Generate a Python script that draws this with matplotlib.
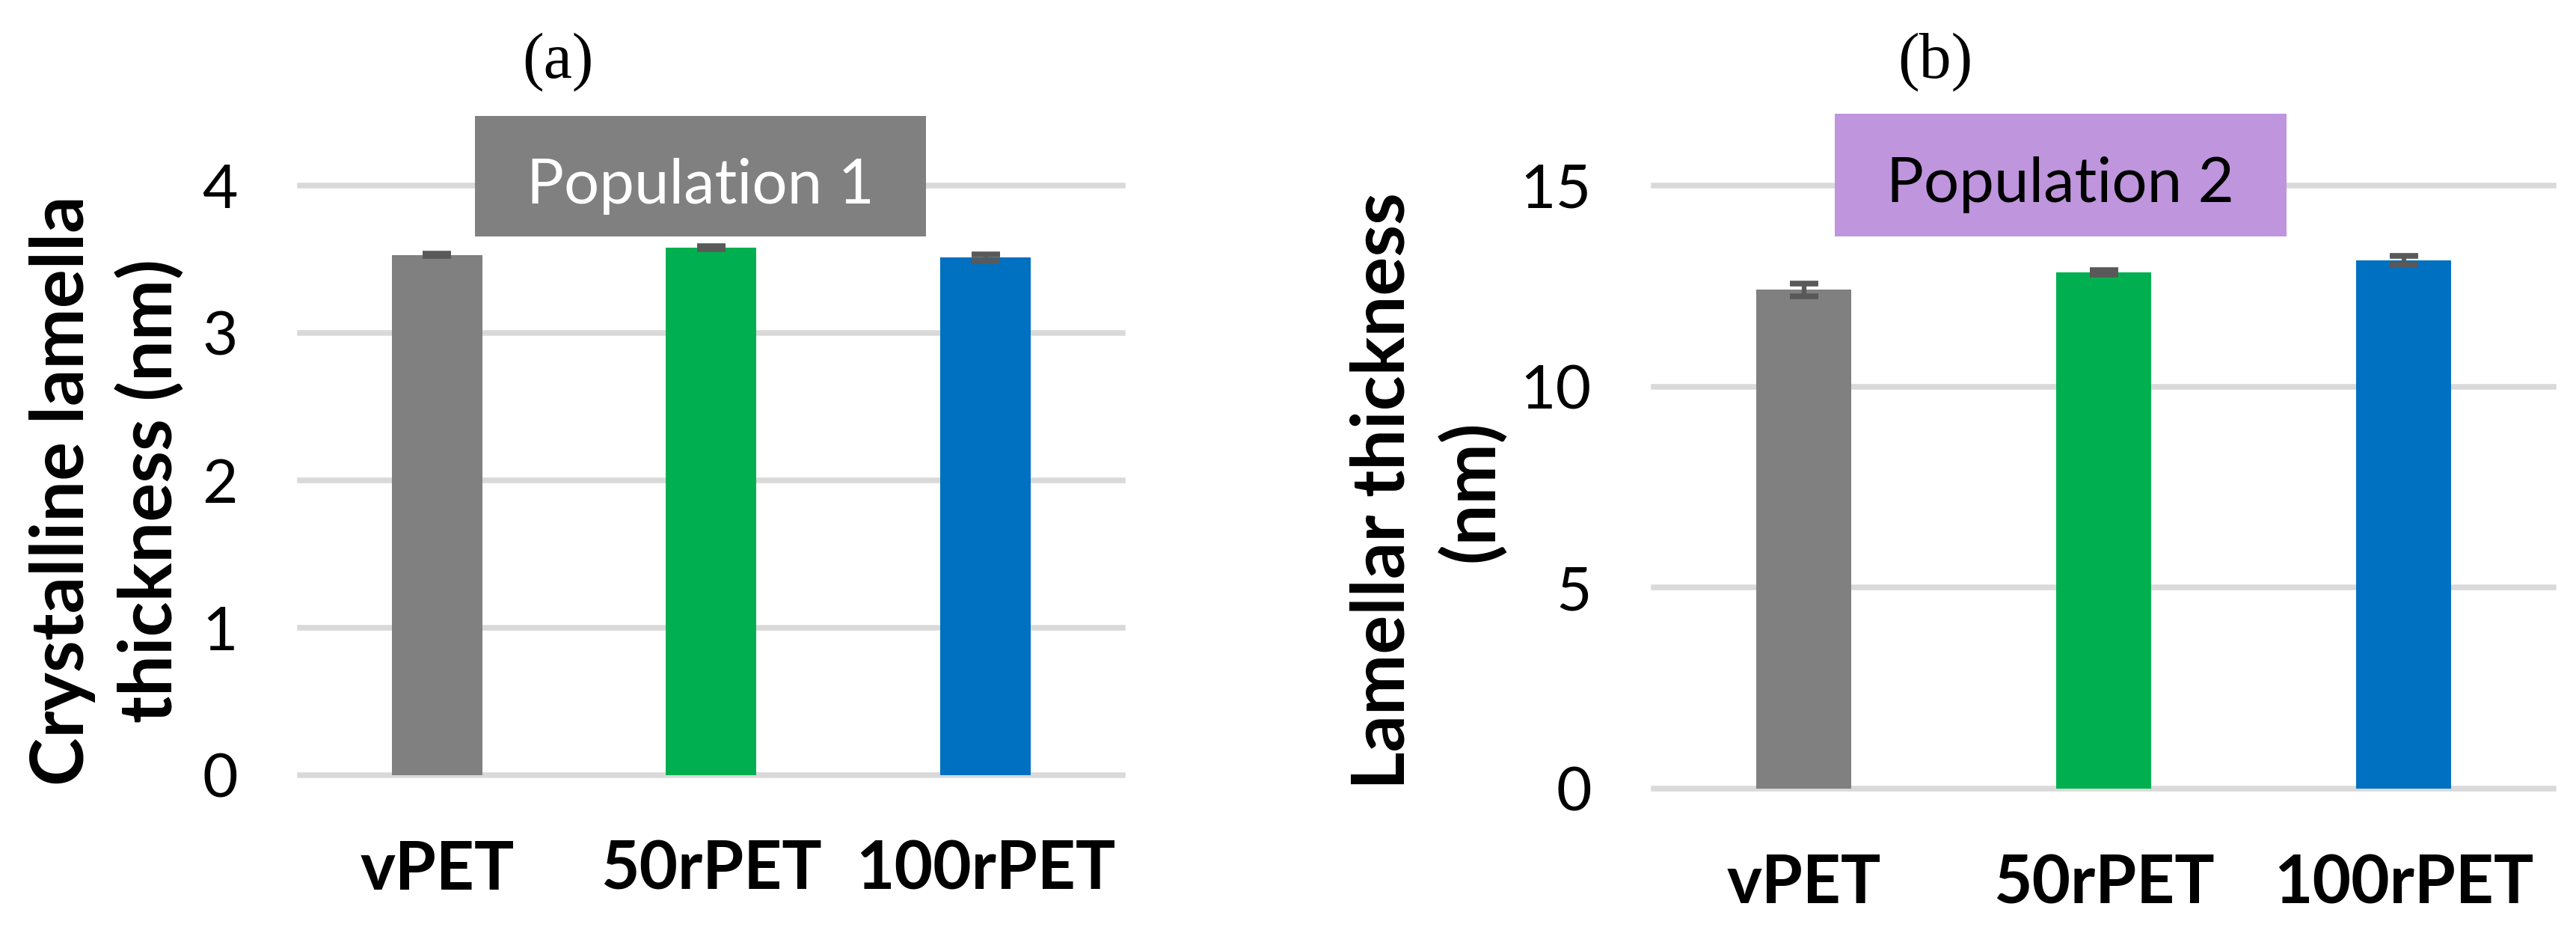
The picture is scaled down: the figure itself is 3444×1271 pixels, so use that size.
import matplotlib
matplotlib.use('Agg')
import matplotlib.pyplot as plt
from matplotlib.patches import Rectangle
import numpy as np

# Data
samples = ['vPET', '50rPET', '100rPET']
bar_colors = ['#808080', '#00B050', '#0070C0']

# (a) population 1 - crystalline lamella thickness (nm)
pop1_vals = [3.53, 3.58, 3.51]
pop1_errs = [0.01, 0.01, 0.025]

# (b) population 2 - lamellar thickness (nm)
pop2_vals = [12.41, 12.84, 13.14]
pop2_errs = [0.16, 0.06, 0.11]

W, H = 3444, 1271
plt.rcParams['font.family'] = ['Lato', 'DejaVu Sans']

fig = plt.figure(figsize=(W / 100, H / 100), dpi=100)


def fx(x):
    return x / W


def fy(y):
    return 1 - y / H


def axes_px(left, right, top, bottom):
    return fig.add_axes([fx(left), fy(bottom), (right - left) / W, (bottom - top) / H])


def draw_panel(ax, vals, errs, ymax, step, width):
    x = np.arange(len(samples))
    ax.bar(x, vals, width=width, color=bar_colors, zorder=2)
    ax.errorbar(x, vals, yerr=errs, fmt='none', ecolor='#595959',
                elinewidth=4.5, capsize=13.5, capthick=5.5, zorder=3)
    ax.set_xlim(-0.5, len(samples) - 0.5)
    ax.set_ylim(0, ymax)
    ax.set_yticks(np.arange(0, ymax + step / 2, step))
    ax.set_xticks(x)
    ax.set_xticklabels(samples, fontweight='bold')
    ax.tick_params(axis='y', length=0, pad=60, labelsize=59)
    ax.tick_params(axis='x', length=0, pad=62, labelsize=64)
    for s in ax.spines.values():
        s.set_visible(False)
    ax.yaxis.grid(True, color='#D9D9D9', linewidth=5.4)
    ax.set_axisbelow(True)
    for gl in ax.get_ygridlines():
        gl.set_clip_on(False)


def label_box(left, right, top, bottom, text, face, tcolor, baseline):
    fig.add_artist(Rectangle((fx(left), fy(bottom)), (right - left) / W, (bottom - top) / H,
                             transform=fig.transFigure, facecolor=face, edgecolor='none', zorder=5))
    fig.text(fx((left + right) / 2), fy(baseline), text, ha='center', va='baseline',
             fontsize=60, color=tcolor, zorder=6)


# panel (a)
ax1 = axes_px(401, 1501, 248, 1035.5)
draw_panel(ax1, pop1_vals, pop1_errs, 4, 1, 0.33)
fig.text(fx(143), fy(656), 'Crystalline lamella\nthickness (nm)', rotation=90,
         ha='center', va='center', multialignment='center', fontsize=70,
         fontweight='bold', linespacing=1.35)
label_box(635, 1238, 155, 316, 'Population 1', '#808080', 'white', 272)
fig.text(fx(746), fy(83), '(a)', ha='center', va='center', fontsize=62,
         family='Liberation Serif')

# panel (b)
ax2 = axes_px(2211, 3414, 248, 1054)
draw_panel(ax2, pop2_vals, pop2_errs, 15, 5, 0.317)
fig.text(fx(1909), fy(656), 'Lamellar thickness\n(nm)', rotation=90,
         ha='center', va='center', multialignment='center', fontsize=70,
         fontweight='bold', linespacing=1.35)
label_box(2453, 3057, 152, 316, 'Population 2', '#BF95DD', 'black', 270)
fig.text(fx(2587), fy(83), '(b)', ha='center', va='center', fontsize=62,
         family='Liberation Serif')

fig.savefig('out.png', dpi=100)
